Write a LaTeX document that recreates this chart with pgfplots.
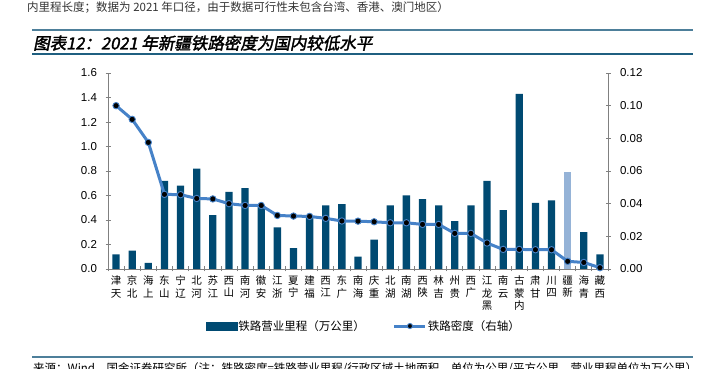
\documentclass[border=0pt]{standalone}
\usepackage{pgfplots}
\pgfplotsset{compat=1.18}
\usepackage{pgfplotstable}
\usepackage{fontspec}
\setmainfont{Liberation Sans}
\newfontfamily\cjk{Noto Sans CJK SC}
\newfontfamily\cjkti{Noto Sans CJK SC}[FakeSlant=0.2,FakeBold=2]
\definecolor{barc}{HTML}{004A72}
\definecolor{xjc}{HTML}{95B3D7}
\definecolor{linec}{HTML}{4682C8}
\definecolor{rulec}{HTML}{4D7F9A}
\definecolor{rulec2}{HTML}{1F5F80}
\definecolor{axc}{HTML}{808080}

\pgfplotstableread{
idx mil den
0 0.12 0.1000
1 0.15 0.0916
2 0.05 0.0775
3 0.72 0.0457
4 0.68 0.0455
5 0.82 0.0432
6 0.44 0.0429
7 0.63 0.0400
8 0.66 0.0389
9 0.52 0.0389
10 0.34 0.0328
11 0.17 0.0324
12 0.43 0.0322
13 0.52 0.0310
14 0.53 0.0294
15 0.10 0.0293
16 0.24 0.0289
17 0.52 0.0283
18 0.60 0.0283
19 0.57 0.0273
20 0.52 0.0273
21 0.39 0.0218
22 0.52 0.0218
23 0.72 0.0159
24 0.48 0.0120
25 1.43 0.0120
26 0.54 0.0118
27 0.56 0.0118
28 0.79 0.0047
29 0.30 0.0040
30 0.12 0.0008
}\datatable

\begin{document}
\begin{tikzpicture}[x=1pt,y=1pt]
\useasboundingbox (0,0) rectangle (712,369);
% header
\node[anchor=west,inner sep=0pt,text=black!80] at (27,361) {\cjk\fontsize{11.5}{13}\selectfont 内里程长度；数据为 2021 年口径，由于数据可行性未包含台湾、香港、澳门地区）};
\draw[rulec,line width=2.4pt] (32,339) -- (693,339);
\node[anchor=west,inner sep=0pt] at (33,326) {\cjkti\fontsize{16.5}{18}\selectfont 图表12：2021 年新疆铁路密度为国内较低水平};
\draw[rulec2,line width=1.6pt] (32,315) -- (693,315);
% bottom
\draw[rulec,line width=2.4pt] (32,12) -- (693,12);
\node[anchor=north west,inner sep=0pt] at (33,6.5) {\cjk\fontsize{11.5}{13}\selectfont 来源：Wind，国金证券研究所（注：铁路密度=铁路营业里程/行政区域土地面积，单位为公里/平方公里，营业里程单位为万公里）};

\begin{axis}[
  at={(108pt,100pt)}, anchor=south west,
  scale only axis, width=500pt, height=196pt,
  xmin=-0.5, xmax=30.5, ymin=0, ymax=1.6,
  axis x line*=bottom, axis y line*=left,
  axis line style={axc, line width=0.8pt},
  tick style={axc, line width=0.8pt},
  tick align=center,
  major tick length=5pt, minor tick length=5pt,
  xtick={0,...,30},
  major x tick style={draw=none},
  minor xtick={-0.5,0.5,...,30.5},
  xticklabels={{津\\天},{京\\北},{海\\上},{东\\山},{宁\\辽},{北\\河},{苏\\江},{西\\山},{南\\河},{徽\\安},{江\\浙},{夏\\宁},{建\\福},{西\\江},{东\\广},{南\\海},{庆\\重},{北\\湖},{南\\湖},{西\\陕},{林\\吉},{州\\贵},{西\\广},{江\\龙\\黑},{南\\云},{古\\蒙\\内},{肃\\甘},{川\\四},{疆\\新},{海\\青},{藏\\西}},
  xticklabel style={font=\cjk\fontsize{10.5}{12.5}\selectfont, align=center, anchor=north, yshift=-1pt},
  ytick={0,0.2,...,1.61},
  yticklabel style={/pgf/number format/fixed, /pgf/number format/fixed zerofill, /pgf/number format/precision=1, font=\fontsize{11.5}{13}\selectfont, xshift=-5pt},
  /pgf/number format/assume math mode=true,
]
\addplot[ybar, bar width=7.3pt, bar shift=0pt, fill=barc, draw=none,
  y filter/.expression={x==28 ? nan : y}] table[x=idx,y=mil]{\datatable};
\addplot[ybar, bar width=7.3pt, bar shift=0pt, fill=xjc, draw=none,
  y filter/.expression={x==28 ? y : nan}] table[x=idx,y=mil]{\datatable};
\end{axis}

\begin{axis}[
  at={(108pt,100pt)}, anchor=south west,
  scale only axis, width=500pt, height=196pt,
  xmin=-0.5, xmax=30.5, ymin=0, ymax=0.12,
  axis x line=none, axis y line*=right,
  axis line style={axc, line width=0.8pt},
  tick style={axc, line width=0.8pt},
  tick align=center, major tick length=5pt,
  ytick={0,0.02,...,0.121},
  yticklabel style={/pgf/number format/fixed, /pgf/number format/fixed zerofill, /pgf/number format/precision=2, font=\fontsize{11.5}{13}\selectfont, xshift=6pt},
  /pgf/number format/assume math mode=true,
  legend columns=2,
  legend style={at={(0.511,-0.291)}, anchor=center, draw=none, fill=none,
    font=\cjk\fontsize{11.5}{13}\selectfont,
    column sep=0pt,
    nodes={inner xsep=1pt}},
]
\addlegendimage{legend image code/.code={\fill[barc] (0pt,-3.8pt) rectangle (31pt,3.8pt);}}
\addlegendentry{铁路营业里程（万公里）\hspace*{27pt}}
\addplot[linec, line width=3pt, mark=*, mark size=3.2pt,
  mark options={fill=black, draw=linec, line width=0.9pt},
  legend image code/.code={\draw[linec, line width=3pt, mark=*, mark size=2.6pt, mark options={fill=black, draw=linec, line width=0.9pt}, mark repeat=2, mark phase=2] plot coordinates {(0pt,0pt) (15.5pt,0pt) (31pt,0pt)};}]
  table[x=idx,y=den]{\datatable};
\addlegendentry{铁路密度（右轴）}
\end{axis}
\end{tikzpicture}
\end{document}
